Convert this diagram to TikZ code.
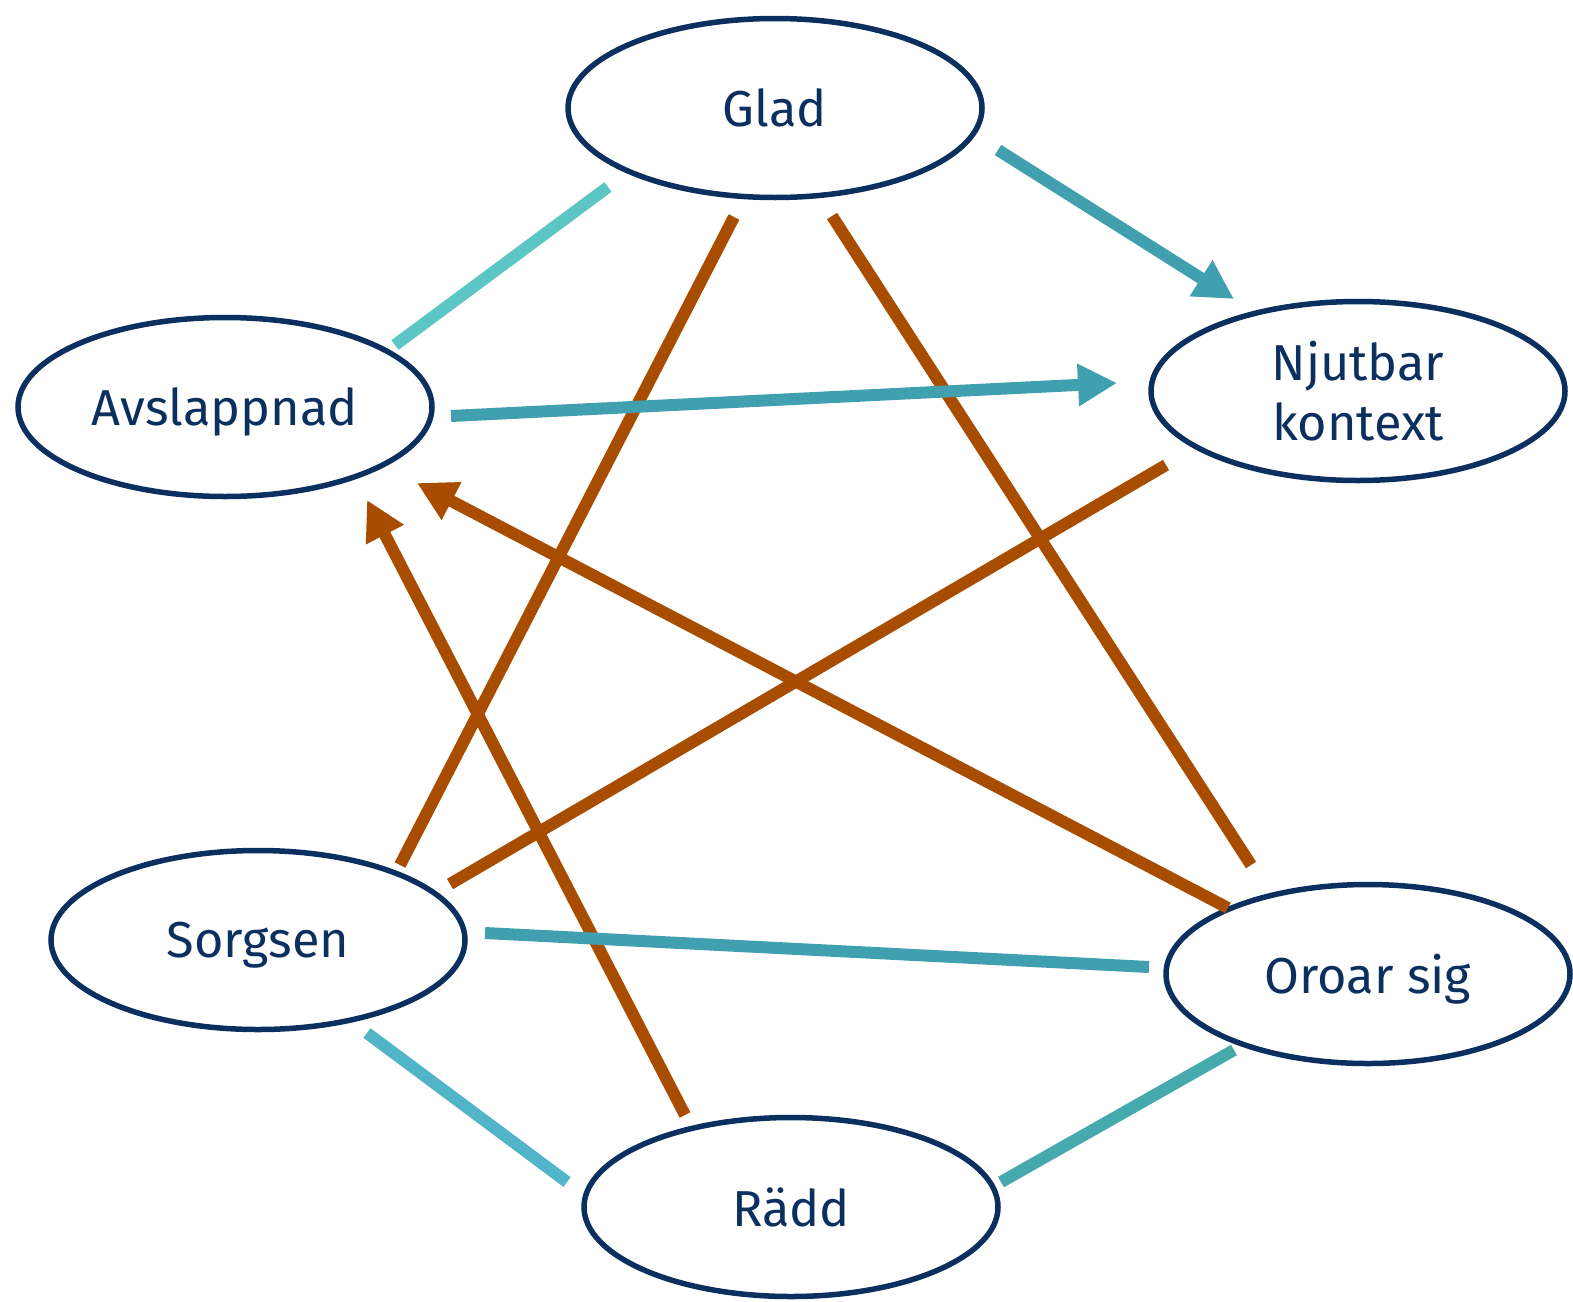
\documentclass[tikz,border=0pt]{standalone}
\usepackage{fontspec}
\setmainfont{Fira Sans}
\usetikzlibrary{shapes.geometric,arrows.meta}
\definecolor{navy}{HTML}{0B3060}
\definecolor{tealA}{HTML}{40A0B0}
\definecolor{tealL}{HTML}{5BC6C3}
\definecolor{tealB}{HTML}{52B4C8}
\definecolor{tealC}{HTML}{44AAAE}
\definecolor{rust}{HTML}{A84C00}
\tikzset{
  emo/.style={ellipse, draw=navy, line width=5.5pt, text=navy, inner sep=0pt,
    minimum width=414pt, minimum height=179pt, align=center, text depth=0pt,
    font=\fontsize{50.5}{60}\selectfont},
  link/.style={line width=12pt, line cap=butt},
  tip/.style={-{Triangle[length=39pt,width=40pt]}},
}
\begin{document}
\begin{tikzpicture}[x=1pt,y=-1pt]
\useasboundingbox (0,0) rectangle (1573,1301);
\node[emo] (glad) at (775,108) {Glad};
\node[emo] (avsl) at (225,407) {Avslappnad};
\node[emo] (njut) at (1358,391) {Njutbar\\kontext};
\node[emo] (sorg) at (258,940) {Sorgsen};
\node[emo, minimum width=404pt] (oroa) at (1368,974) {Oroar sig};
\node[emo] (radd) at (791,1207) {Rädd};

\coordinate (g1) at (998,150);   \coordinate (n1) at (1234,299);
\coordinate (g2) at (608,187);   \coordinate (a2) at (395,345);
\coordinate (a3) at (451,416);   \coordinate (n3) at (1117,383);
\coordinate (g4) at (734,217);   \coordinate (s4) at (400,865);
\coordinate (g5) at (832,216);   \coordinate (o5) at (1251,865);
\coordinate (n6) at (1166,465);  \coordinate (s6) at (450,884);
\coordinate (o7) at (1228,908);  \coordinate (a7) at (417,483);
\coordinate (r8) at (685,1115);  \coordinate (a8) at (367,500);
\coordinate (s9) at (485,933);   \coordinate (o9) at (1149,967);
\coordinate (s10) at (367,1033); \coordinate (r10) at (567,1182);
\coordinate (r11) at (1001,1182);\coordinate (o11) at (1234,1050);

\draw[link, rust] (g4) -- (s4);
\draw[link, rust] (g5) -- (o5);
\draw[link, rust] (n6) -- (s6);
\draw[link, rust, tip] (o7) -- (a7);
\draw[link, rust, tip] (r8) -- (a8);
\draw[link, tealA, tip] (g1) -- (n1);
\draw[link, tealL] (g2) -- (a2);
\draw[link, tealA, tip] (a3) -- (n3);
\draw[link, tealA] (s9) -- (o9);
\draw[link, tealB] (s10) -- (r10);
\draw[link, tealC] (r11) -- (o11);
\end{tikzpicture}
\end{document}
